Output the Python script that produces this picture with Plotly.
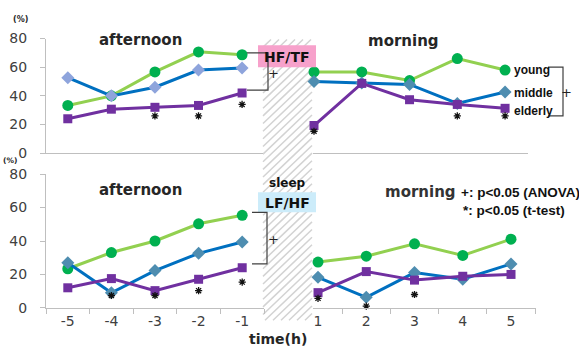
import plotly.graph_objects as go

W, H = 579, 355

left_cats = ["-5", "-4", "-3", "-2", "-1"]
right_cats = ["1", "2", "3", "4", "5"]
groups = ["young", "middle", "elderly"]

# HF/TF (%)
hf_aft_young = [33.3, 40.0, 56.7, 70.7, 68.7]
hf_aft_middle = [52.7, 40.0, 46.0, 58.0, 59.5]
hf_aft_elderly = [24.0, 30.7, 32.0, 33.3, 42.0]
hf_aft_sig = [None, None, 26.0, 26.0, 34.0]
hf_mor_young = [56.7, 56.7, 50.7, 66.0, 58.0]
hf_mor_middle = [50.0, 49.0, 48.0, 34.7, 42.7]
hf_mor_elderly = [19.3, 48.7, 37.3, 34.0, 31.3]
hf_mor_sig = [15.3, None, None, 26.0, 26.0]

# LF/HF (%)
lf_aft_young = [23.4, 33.1, 40.0, 50.3, 55.4]
lf_aft_middle = [27.0, 9.0, 22.3, 32.6, 39.4]
lf_aft_elderly = [12.0, 17.5, 10.3, 17.1, 24.0]
lf_aft_sig = [None, 7.4, 7.4, 10.3, 15.4]
lf_mor_young = [27.4, 30.9, 38.3, 31.4, 41.1]
lf_mor_middle = [18.3, 6.3, 21.1, 17.1, 26.3]
lf_mor_elderly = [9.1, 21.7, 16.6, 18.9, 20.0]
lf_mor_sig = [5.7, 1.0, 8.0, None, None]

y_ticks = [0, 20, 40, 60, 80]


def px(x):
    return x / W


def py(y):
    return 1 - y / H


GREEN_L, GREEN_M = "#92D050", "#00B050"
BLUE_L = "#0070C0"
PURP = "#7030A0"

fig = go.Figure()


def add_panel(cats, young, middle, elderly, sig, xa, ya, dcol):
    fig.add_trace(go.Scatter(x=cats, y=young, mode="lines+markers", xaxis=xa, yaxis=ya,
                             line=dict(color=GREEN_L, width=3),
                             marker=dict(symbol="circle", size=11, color=GREEN_M),
                             showlegend=False, cliponaxis=False))
    fig.add_trace(go.Scatter(x=cats, y=middle, mode="lines+markers", xaxis=xa, yaxis=ya,
                             line=dict(color=BLUE_L, width=3),
                             marker=dict(symbol="diamond", size=10, color=dcol),
                             showlegend=False, cliponaxis=False))
    fig.add_trace(go.Scatter(x=cats, y=elderly, mode="lines+markers", xaxis=xa, yaxis=ya,
                             line=dict(color=PURP, width=3),
                             marker=dict(symbol="square", size=9, color=PURP),
                             showlegend=False, cliponaxis=False))
    fig.add_trace(go.Scatter(x=cats, y=sig, mode="markers", xaxis=xa, yaxis=ya,
                             marker=dict(symbol="asterisk-open", size=6, color="#111111",
                                         line=dict(color="#111111", width=1.3)),
                             showlegend=False, cliponaxis=False))


add_panel(left_cats, hf_aft_young, hf_aft_middle, hf_aft_elderly, hf_aft_sig, "x", "y", "#8EA4DC")
add_panel(right_cats, hf_mor_young, hf_mor_middle, hf_mor_elderly, hf_mor_sig, "x2", "y2", "#4E8DB0")
add_panel(left_cats, lf_aft_young, lf_aft_middle, lf_aft_elderly, lf_aft_sig, "x3", "y3", "#4E8DB0")
add_panel(right_cats, lf_mor_young, lf_mor_middle, lf_mor_elderly, lf_mor_sig, "x4", "y4", "#4E8DB0")

AX = "#BFBFBF"
tickfont = dict(family="DejaVu Sans", size=14, color="#404040")
top_dom = [py(152), py(32)]
bot_dom = [py(314), py(174)]

common_x = dict(type="category", showgrid=False, zeroline=False, showline=True,
                linecolor=AX, linewidth=1.3, fixedrange=True)
yax_vis = dict(range=[0, 80], tickvals=y_ticks, showgrid=False, zeroline=False, showline=True,
               linecolor=AX, linewidth=1.3, ticks="outside", ticklen=5, tickcolor=AX,
               tickfont=tickfont, ticklabelstandoff=10)
yax_hid = dict(range=[0, 80], visible=False)

fig.update_layout(
    width=W, height=H, margin=dict(l=0, r=0, t=0, b=0),
    paper_bgcolor="white", plot_bgcolor="rgba(0,0,0,0)",
    xaxis=dict(**common_x, domain=[px(46), px(263)], range=[-0.5, 4.48], anchor="y",
               showticklabels=False, ticks=""),
    yaxis=dict(**yax_vis, domain=top_dom, anchor="x"),
    xaxis2=dict(**common_x, domain=[px(313), px(528)], range=[-0.021, 4.48], anchor="y2",
                showticklabels=False, ticks=""),
    yaxis2=dict(**yax_hid, domain=top_dom, anchor="x2"),
    xaxis3=dict(**common_x, domain=[px(46), px(264)], range=[-0.5, 4.5], anchor="y3",
                ticks="outside", ticklen=5, tickcolor=AX, tickson="boundaries",
                tickfont=tickfont),
    yaxis3=dict(**yax_vis, domain=bot_dom, anchor="x3"),
    xaxis4=dict(**common_x, domain=[px(313), px(536)], range=[-0.104, 4.518], anchor="y4",
                ticks="outside", ticklen=5, tickcolor=AX, tickson="boundaries",
                tickfont=tickfont),
    yaxis4=dict(**yax_hid, domain=bot_dom, anchor="x4"),
)

shapes = []

# hatched sleep band
hx0, hx1, hy0, hy1 = 263, 312, 33, 327
step = 8
segs = []
c = hx0 + hy0
while c <= hx1 + hy1:
    xa = max(hx0, c - hy1)
    xb = min(hx1, c - hy0)
    if xb > xa:
        segs.append("M%.5f,%.5f L%.5f,%.5f" % (px(xa), py(c - xa), px(xb), py(c - xb)))
    c += step
shapes.append(dict(type="path", path=" ".join(segs), xref="paper", yref="paper",
                   line=dict(color="#D3D3D3", width=1.5), layer="below"))

# label boxes
shapes.append(dict(type="rect", xref="paper", yref="paper", x0=px(258), x1=px(316),
                   y0=py(62), y1=py(39), fillcolor="#F7A1CB", line=dict(width=0)))
shapes.append(dict(type="rect", xref="paper", yref="paper", x0=px(258), x1=px(316),
                   y0=py(214), y1=py(193), fillcolor="#CCECFA", line=dict(width=0)))


def bracket(xl, xr, yt, yb, color="#404040"):
    path = "M%.5f,%.5f L%.5f,%.5f L%.5f,%.5f L%.5f,%.5f" % (
        px(xl), py(yt), px(xr), py(yt), px(xr), py(yb), px(xl), py(yb))
    return dict(type="path", path=path, xref="paper", yref="paper",
                line=dict(color=color, width=1.2))


shapes.append(bracket(247, 268, 47, 86))
shapes.append(bracket(252, 267, 214, 268))
shapes.append(bracket(548, 563, 62, 113))
fig.update_layout(shapes=shapes)

ann = []


def text(x, y, s, size=14, bold=True, anchor="center", color="#262626", family="DejaVu Sans"):
    ann.append(dict(x=px(x), y=py(y), xref="paper", yref="paper", text=("<b>%s</b>" % s) if bold else s,
                    showarrow=False, xanchor=anchor, yanchor="middle",
                    font=dict(family=family, size=size, color=color)))


LS = "Liberation Sans"
text(20, 12, "(%)", size=8)
text(10, 160, "(%)", size=7.5)
text(140, 33, "afternoon", size=15)
text(140, 191, "afternoon", size=15)
text(403, 35, "morning", size=15)
text(287, 51, "HF/TF", size=14, color="#111111")
text(287, 183, "sleep", size=12, color="#111111")
text(287, 204, "LF/HF", size=14, color="#111111")
text(273, 69, "+", size=13, bold=False, color="#222222")
text(273, 242, "+", size=13, bold=False, color="#222222")
text(566, 89, "+", size=13, bold=False, color="#222222")
text(512, 65, groups[0], size=12, anchor="left", color="#111111", family=LS)
text(512, 89, groups[1], size=12, anchor="left", color="#111111", family=LS)
text(512, 108, groups[2], size=12, anchor="left", color="#111111", family=LS)
text(383, 193, "morning", size=15, anchor="left", color="#333333")
text(459, 193, "+: p<0.05 (ANOVA)", size=13.5, anchor="left", color="#111111", family=LS)
text(461, 212, "*: p<0.05 (t-test)", size=13.5, anchor="left", color="#111111", family=LS)
text(278, 347, "time(h)", size=14, color="#262626")
fig.update_layout(annotations=ann)

fig.write_html("out.html")
